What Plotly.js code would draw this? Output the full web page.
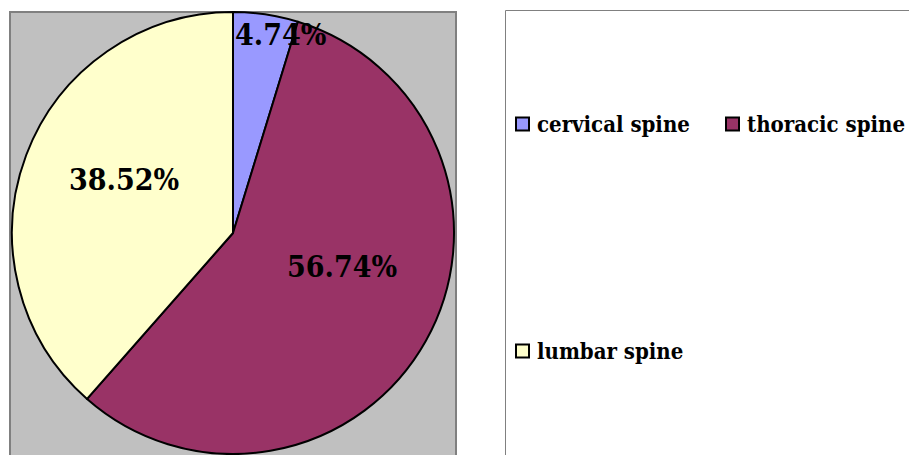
<!DOCTYPE html>
<html>
<head>
<meta charset="utf-8">
<script src="https://cdn.plot.ly/plotly-3.0.1.min.js"></script>
<style>html,body{margin:0;padding:0;background:#fff;}#chart{width:909px;height:455px;}</style>
</head>
<body>
<div id="chart"></div>
<script>
// ---- data ----
const categories = ["cervical spine", "thoracic spine", "lumbar spine"];
const percentValues = [4.74, 56.74, 38.52];
const sliceColors = ["#9999FF", "#993366", "#FFFFCC"];

// ---- layout constants (pixels) ----
const W = 909, H = 455;
const px = x => x / W;
const py = y => 1 - y / H;
const labelPixelPos = [[280, 35], [342, 266], [124, 180]];
const legendPixelPos = [[516, 124], [726, 124], [516, 351]];

const trace = {
  type: "pie",
  labels: categories,
  values: percentValues,
  sort: false,
  direction: "clockwise",
  rotation: 0,
  textinfo: "none",
  hoverinfo: "label+percent",
  marker: { colors: sliceColors, line: { color: "#000000", width: 2 } },
  domain: { x: [px(10), px(456)], y: [py(454), py(12)] },
  showlegend: false
};

const pctFont = { family: "DejaVu Serif Condensed, DejaVu Serif, serif", size: 30, color: "#000" };
const legFont = { family: "DejaVu Serif Condensed, DejaVu Serif, serif", size: 22, color: "#000" };

const annotations = [];
const shapes = [
  { type: "rect", xref: "paper", yref: "paper", layer: "below",
    x0: px(10), x1: px(456), y0: py(470), y1: py(12),
    fillcolor: "#C0C0C0", line: { color: "#808080", width: 2 } },
  { type: "rect", xref: "paper", yref: "paper", layer: "below",
    x0: px(505.5), x1: px(930), y0: py(470), y1: py(10.5),
    fillcolor: "#FFFFFF", line: { color: "#808080", width: 1 } }
];

percentValues.forEach((v, i) => {
  annotations.push({
    xref: "paper", yref: "paper", showarrow: false,
    x: px(labelPixelPos[i][0]), y: py(labelPixelPos[i][1]),
    xanchor: "center", yanchor: "middle",
    text: "<b>" + v.toFixed(2) + "%</b>", font: pctFont
  });
  const [lx, ly] = legendPixelPos[i];
  shapes.push({
    type: "rect", xref: "paper", yref: "paper",
    x0: px(lx), x1: px(lx + 13), y0: py(ly + 6.5), y1: py(ly - 6.5),
    fillcolor: sliceColors[i], line: { color: "#000", width: 2 }
  });
  annotations.push({
    xref: "paper", yref: "paper", showarrow: false,
    x: px(lx + 19), y: py(ly),
    xanchor: "left", yanchor: "middle",
    text: "<b>" + categories[i] + "</b>", font: legFont
  });
});

const layout = {
  width: W, height: H,
  margin: { l: 0, r: 0, t: 0, b: 0 },
  paper_bgcolor: "#FFFFFF",
  plot_bgcolor: "#FFFFFF",
  showlegend: false,
  shapes: shapes,
  annotations: annotations
};

Plotly.newPlot("chart", [trace], layout, { displayModeBar: false, staticPlot: true });
</script>
</body>
</html>
